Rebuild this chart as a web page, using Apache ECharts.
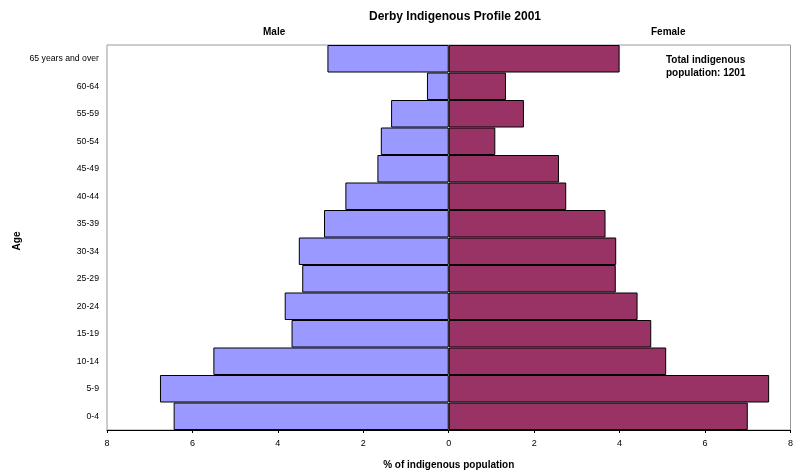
<!DOCTYPE html>
<html>
<head>
<meta charset="utf-8">
<script src="https://cdn.jsdelivr.net/npm/echarts@6/dist/echarts.min.js"></script>
<style>
html,body{margin:0;padding:0;background:#fff;}
#chart{width:796px;height:475px;}
</style>
</head>
<body>
<div id="chart"></div>
<script>
var categories = ['0-4','5-9','10-14','15-19','20-24','25-29','30-34','35-39','40-44','45-49','50-54','55-59','60-64','65 years and over'];
var maleValues = [6.44, 6.76, 5.51, 3.68, 3.84, 3.43, 3.51, 2.92, 2.42, 1.67, 1.59, 1.35, 0.51, 2.84];
var femaleValues = [7.00, 7.50, 5.09, 4.74, 4.42, 3.91, 3.92, 3.67, 2.75, 2.58, 1.09, 1.76, 1.34, 4.00];

var FONT = 'Liberation Sans, Arial, sans-serif';
var chart = echarts.init(document.getElementById('chart'), null, {renderer:'canvas'});
chart.setOption({
  animation: false,
  backgroundColor: '#fff',
  title: {
    text: 'Derby Indigenous Profile 2001',
    left: 450, top: 6, textAlign: 'center',
    textStyle: {fontFamily: FONT, fontSize: 12, fontWeight: 'bold', color: '#000'}
  },
  graphic: [
    {type:'text', left: 263, top: 27, style:{text:'Male', font:'bold 10px ' + FONT, fill:'#000'}},
    {type:'text', left: 651, top: 27, style:{text:'Female', font:'bold 10px ' + FONT, fill:'#000'}},
    {type:'text', left: 666, top: 54, style:{text:'Total indigenous\npopulation: 1201', font:'bold 10px ' + FONT, fill:'#000', lineHeight: 13}},
    {type:'text', x: 17, y: 241, rotation: Math.PI / 2, style:{text:'Age', font:'bold 10px ' + FONT, fill:'#000', align:'center', verticalAlign:'middle'}}
  ],
  grid: {left: 107, right: 3, top: 45, bottom: 41, show: true, borderColor: '#999', borderWidth: 1, containLabel: false},
  xAxis: {
    type: 'value', min: -8, max: 8, interval: 2,
    name: '% of indigenous population', nameLocation: 'middle', nameGap: 30,
    nameTextStyle: {fontFamily: FONT, fontSize: 10, fontWeight: 'bold', color: '#000'},
    axisLine: {show: true, onZero: false, lineStyle: {color: '#000', width: 1}},
    axisTick: {show: true, length: 3, lineStyle: {color: '#000'}},
    axisLabel: {fontFamily: FONT, fontSize: 9, color: '#000', margin: 9, formatter: function(v){return Math.abs(v);}},
    splitLine: {show: false}
  },
  yAxis: {
    type: 'category', data: categories,
    axisLine: {show: false}, axisTick: {show: false},
    axisLabel: {fontFamily: FONT, fontSize: 8.7, color: '#000', margin: 8}
  },
  series: [
    {
      name: 'Male', type: 'bar', barWidth: '100%', barGap: '-100%',
      data: maleValues.map(function(v){return -v;}),
      itemStyle: {color: '#9999FF', borderColor: '#000', borderWidth: 1}
    },
    {
      name: 'Female', type: 'bar', barWidth: '100%', barGap: '-100%',
      data: femaleValues,
      itemStyle: {color: '#993366', borderColor: '#000', borderWidth: 1}
    }
  ]
});
</script>
</body>
</html>
